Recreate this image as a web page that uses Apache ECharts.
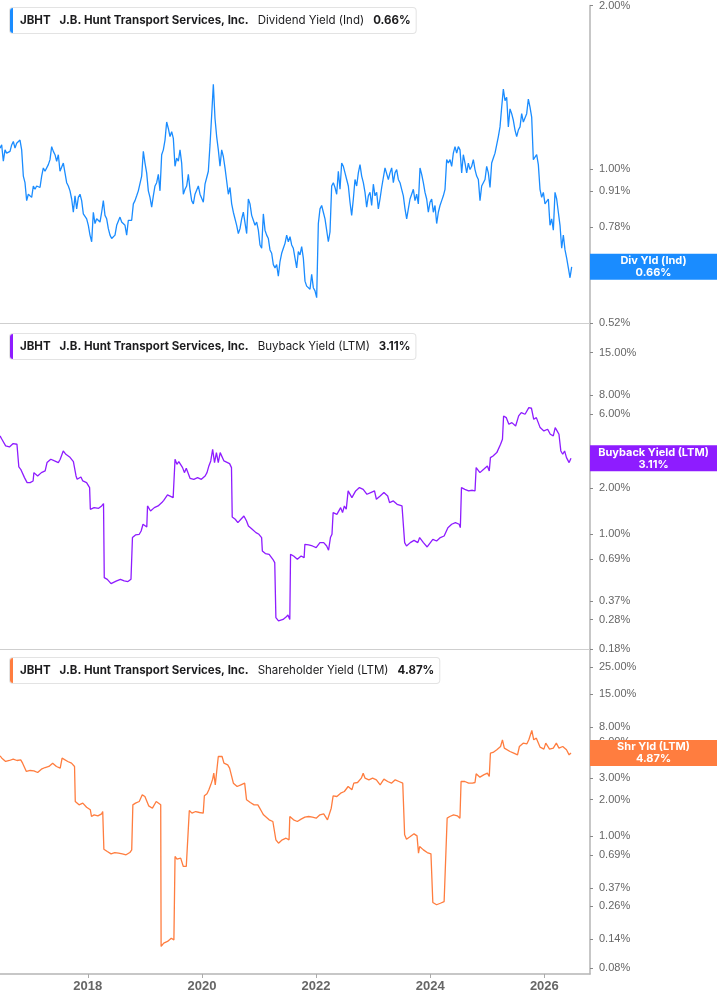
<!DOCTYPE html>
<html><head><meta charset="utf-8">
<script src="https://cdn.jsdelivr.net/npm/echarts@6/dist/echarts.min.js"></script>
<style>html,body{margin:0;padding:0;background:#fff}#c{width:717px;height:1005px}</style>
</head><body><div id="c"></div>
<script>
// ---------- data ----------
const ticker = 'JBHT';
const company = 'J.B. Hunt Transport Services, Inc.';
const xStart = 2016.462, xEnd = 2026.80;            // visible window (decimal years)
const yearTicks = [2018, 2020, 2022, 2024, 2026];

// Dividend yield (Ind), % — sampled every ~10.7 days from divStart
const divStart = 2016.462, divStep = 0.029204;
const divYield = [
1.092,1.107,1.033,1.084,1.069,1.062,1.077,1.107,1.123,1.092,
1.115,1.107,1.130,1.084,0.970,0.943,0.874,0.898,0.905,0.886,
0.930,0.917,0.930,0.937,0.924,0.970,1.004,0.990,0.997,1.018,
1.040,1.099,1.077,1.062,1.033,1.062,0.990,0.997,1.025,0.983,
0.943,0.930,0.911,0.880,0.832,0.892,0.844,0.886,0.898,0.874,
0.826,0.821,0.809,0.787,0.755,0.734,0.832,0.793,0.809,0.804,
0.798,0.832,0.874,0.821,0.809,0.776,0.755,0.744,0.739,0.755,
0.787,0.793,0.815,0.798,0.793,0.787,0.755,0.804,0.798,0.804,
0.862,0.874,0.892,0.911,0.905,0.970,1.077,1.025,0.983,0.911,
0.886,0.850,0.892,0.930,0.943,0.977,0.911,1.062,1.084,1.130,
1.220,1.187,1.147,1.171,1.138,1.011,1.047,1.033,1.084,1.025,
0.898,0.917,0.930,0.977,0.917,0.874,0.862,0.898,0.892,0.930,
0.898,0.905,0.868,0.937,0.963,0.990,1.107,1.255,1.432,1.238,
1.147,1.084,1.011,1.084,1.054,1.004,0.950,0.898,0.924,0.862,
0.832,0.838,0.787,0.760,0.776,0.809,0.832,0.838,0.760,0.880,
0.862,0.821,0.804,0.787,0.798,0.771,0.724,0.714,0.826,0.771,
0.755,0.744,0.709,0.699,0.666,0.657,0.666,0.634,0.675,0.699,
0.714,0.729,0.755,0.734,
0.750,0.724,0.714,0.685,0.657,0.704,0.694,0.719,0.685,0.621,
0.608,0.613,0.600,0.639,0.604,0.596,0.579,0.793,0.844,0.856,
0.832,0.809,0.809,0.734,0.765,0.930,0.943,0.924,0.898,0.990,
0.917,1.025,1.011,0.983,0.956,0.930,0.868,0.821,0.880,0.956,
0.930,0.983,1.018,0.970,0.943,0.905,0.850,0.892,0.905,0.856,
0.937,0.892,0.905,0.844,0.880,0.924,0.930,1.004,0.997,0.956,
0.983,1.004,0.943,0.983,0.997,0.956,0.943,0.917,0.892,0.844,
0.809,0.844,0.880,0.898,0.917,0.874,0.898,0.862,1.004,0.977,
0.943,0.905,0.880,0.832,0.868,0.880,0.832,0.856,0.793,0.832,
0.856,0.874,0.892,0.917,1.040,1.025,1.040,1.011,1.069,1.099,
1.069,1.099,1.084,0.983,1.062,1.025,0.983,1.025,0.997,1.011,
1.040,0.997,0.970,0.956,0.874,0.930,0.943,0.956,1.011,0.983,
0.924,1.025,1.047,1.069,1.107,1.147,1.195,1.299,1.403,1.336,
1.355,1.195,1.290,1.264,1.229,1.179,1.147,1.179,1.195,1.264,
1.220,1.212,1.264,1.345,1.299,1.246,1.040,1.040,1.062,1.018,
0.917,0.886,0.905,0.862,0.868,0.880,0.787,0.809,0.771,0.905,
0.880,0.832,0.787,0.714,0.755,0.709,0.685,0.657,0.630,0.66
];

// Buyback yield (LTM), % — [decimal year, value]
const buybackYield = [
[2016.462,4.334],[2016.495,4.124],[2016.561,3.734],[2016.627,3.678],[2016.693,3.866],[2016.759,3.828],[2016.779,3.828],[2016.792,2.730],[2016.825,2.636],[2016.891,2.328],
[2016.937,2.161],[2016.990,2.161],[2017.042,2.215],[2017.056,2.508],[2017.122,2.386],[2017.187,2.508],[2017.253,2.572],[2017.286,2.912],[2017.352,3.061],[2017.418,2.985],
[2017.484,2.912],[2017.517,3.061],[2017.570,3.465],[2017.616,3.297],[2017.682,3.168],[2017.748,2.955],[2017.781,2.985],[2017.794,2.386],[2017.814,2.271],[2017.880,2.351],
[2017.913,2.215],[2017.979,2.161],[2018.032,2.006],[2018.045,1.452],[2018.111,1.488],[2018.190,1.474],[2018.243,1.526],[2018.276,1.580],[2018.289,0.524],[2018.342,0.511],
[2018.408,0.479],[2018.441,0.474],[2018.506,0.499],[2018.572,0.511],[2018.638,0.499],[2018.704,0.494],[2018.757,0.511],[2018.783,0.952],[2018.836,0.990],[2018.902,1.000],
[2018.935,1.051],[2018.968,1.161],[2019.001,1.190],[2019.034,1.116],[2019.047,1.526],[2019.100,1.416],[2019.133,1.381],[2019.166,1.488],[2019.232,1.526],[2019.298,1.604],
[2019.331,1.660],[2019.364,1.686],[2019.397,1.798],[2019.430,1.771],[2019.496,1.728],[2019.515,1.728],[2019.529,3.061],[2019.562,2.840],[2019.595,2.955],[2019.628,2.912],
[2019.661,2.703],[2019.693,2.508],[2019.726,2.676],[2019.792,2.305],[2019.858,2.271],[2019.924,2.328],[2019.990,2.271],[2020.056,2.386],[2020.089,2.508],[2020.122,2.771],
[2020.155,2.985],[2020.188,3.552],[2020.221,2.912],[2020.254,3.380],[2020.287,2.912],[2020.320,3.380],[2020.353,3.465],[2020.386,2.985],[2020.419,2.912],[2020.485,2.869],
[2020.518,2.703],[2020.531,1.295],[2020.584,1.251],[2020.630,1.190],[2020.683,1.251],[2020.736,1.314],[2020.762,1.347],[2020.782,1.220],[2020.815,1.132],[2020.881,1.077],
[2020.947,1.025],[2020.999,1.000],[2021.046,0.952],[2021.059,0.780],[2021.112,0.750],[2021.178,0.742],[2021.243,0.689],[2021.276,0.656],[2021.296,0.289],[2021.342,0.275],
[2021.375,0.268],[2021.422,0.281],[2021.474,0.291],[2021.507,0.300],[2021.540,0.281],[2021.553,0.742],[2021.606,0.724],[2021.672,0.689],[2021.738,0.724],[2021.791,0.706],
[2021.804,0.861],[2021.870,0.853],[2021.936,0.840],[2022.002,0.820],[2022.068,0.883],[2022.134,0.883],[2022.186,0.840],[2022.219,0.788],[2022.252,0.952],[2022.279,1.000],
[2022.299,1.381],[2022.365,1.347],[2022.431,1.488],[2022.464,1.381],[2022.496,1.526],[2022.529,1.452],[2022.562,1.909],[2022.628,1.728],[2022.694,1.909],[2022.760,2.006],
[2022.826,1.956],[2022.892,1.816],[2022.958,1.862],[2023.024,1.909],[2023.057,1.686],[2023.123,1.771],[2023.189,1.862],[2023.255,1.771],[2023.288,1.604],[2023.354,1.644],
[2023.420,1.564],[2023.506,1.526],[2023.532,1.488],[2023.552,0.883],[2023.585,0.840],[2023.651,0.883],[2023.717,0.914],[2023.783,0.883],[2023.815,0.952],[2023.881,0.883],
[2023.947,0.828],[2023.980,0.820],[2024.046,0.928],[2024.112,0.905],[2024.178,0.952],[2024.244,0.975],[2024.310,1.104],[2024.376,1.161],[2024.442,1.190],[2024.508,1.161],
[2024.528,1.104],[2024.548,2.006],[2024.607,1.956],[2024.673,1.909],[2024.739,1.928],[2024.785,1.909],[2024.805,2.703],[2024.871,2.508],[2024.937,2.636],[2025.002,2.771],
[2025.035,2.572],[2025.055,3.137],[2025.101,3.216],[2025.167,3.380],[2025.233,3.828],[2025.266,4.124],[2025.286,5.840],[2025.332,5.696],[2025.378,5.157],[2025.431,5.286],
[2025.497,5.030],[2025.550,5.840],[2025.596,6.138],[2025.662,5.987],[2025.728,6.614],[2025.774,6.549],[2025.814,5.556],[2025.860,5.696],[2025.926,4.907],[2025.992,4.670],
[2026.058,4.787],[2026.104,4.443],[2026.157,4.334],[2026.190,4.907],[2026.223,4.670],[2026.256,4.443],[2026.289,3.465],[2026.322,3.297],[2026.355,3.465],[2026.388,3.137],
[2026.434,2.912],[2026.467,3.11]
];

// Shareholder yield (LTM), % — [decimal year, value]
const shareholderYield = [
[2016.462,4.612],[2016.495,4.411],[2016.561,4.139],[2016.627,4.219],[2016.693,4.328],[2016.759,4.219],[2016.825,4.273],[2016.858,4.009],[2016.924,3.419],[2016.990,3.485],
[2017.056,3.462],[2017.122,3.354],[2017.187,3.575],[2017.253,3.690],[2017.319,3.762],[2017.385,4.009],[2017.451,3.762],[2017.517,3.644],[2017.550,4.411],[2017.583,4.496],
[2017.649,4.139],[2017.715,4.009],[2017.768,3.762],[2017.781,1.928],[2017.847,1.808],[2017.913,1.867],[2017.979,1.729],[2018.045,1.644],[2018.065,1.447],[2018.111,1.494],
[2018.177,1.466],[2018.243,1.523],[2018.262,1.592],[2018.282,0.775],[2018.342,0.741],[2018.408,0.709],[2018.473,0.727],[2018.539,0.718],[2018.605,0.709],[2018.671,0.696],
[2018.737,0.727],[2018.770,0.765],[2018.790,1.808],[2018.836,1.867],[2018.902,1.928],[2018.955,2.189],[2019.001,2.121],[2019.067,1.774],[2019.133,1.696],[2019.199,1.928],
[2019.232,1.867],[2019.278,1.808],[2019.285,0.121],[2019.331,0.129],[2019.397,0.133],[2019.463,0.1415],[2019.509,0.137],[2019.529,0.674],[2019.562,0.640],[2019.628,0.653],
[2019.674,0.557],[2019.726,0.557],[2019.759,0.574],[2019.779,1.623],[2019.825,1.543],[2019.891,1.592],[2019.957,1.562],[2020.023,1.543],[2020.043,2.148],[2020.089,2.231],
[2020.122,2.409],[2020.155,2.650],[2020.188,2.953],[2020.208,3.312],[2020.234,2.650],[2020.254,2.736],[2020.287,4.554],[2020.320,4.496],[2020.353,4.554],[2020.386,4.009],
[2020.452,3.883],[2020.485,3.644],[2020.518,3.529],[2020.551,2.736],[2020.617,2.567],[2020.683,2.650],[2020.749,2.736],[2020.782,1.990],[2020.848,1.891],[2020.914,1.808],
[2020.980,1.808],[2021.013,1.696],[2021.046,1.592],[2021.079,1.494],[2021.112,1.447],[2021.178,1.358],[2021.243,1.315],[2021.276,1.274],[2021.296,0.927],[2021.342,0.869],
[2021.408,0.927],[2021.474,0.956],[2021.527,0.927],[2021.540,1.447],[2021.606,1.358],[2021.672,1.315],[2021.738,1.375],[2021.804,1.429],[2021.870,1.447],[2021.936,1.429],
[2022.002,1.402],[2022.068,1.494],[2022.134,1.523],[2022.200,1.358],[2022.233,1.402],[2022.266,1.696],[2022.299,2.148],[2022.365,2.121],[2022.431,2.260],[2022.496,2.333],
[2022.562,2.567],[2022.628,2.409],[2022.661,2.736],[2022.727,2.771],[2022.793,3.010],[2022.826,3.312],[2022.859,3.010],[2022.925,2.915],[2022.991,3.010],[2023.057,2.915],
[2023.123,2.650],[2023.189,2.953],[2023.255,2.824],[2023.321,2.736],[2023.387,2.915],[2023.453,2.824],[2023.519,2.736],[2023.539,2.650],[2023.552,1.019],[2023.585,0.938],
[2023.651,0.987],[2023.717,1.039],[2023.769,1.000],[2023.795,0.718],[2023.815,0.816],[2023.881,0.765],[2023.947,0.727],[2024.013,0.709],[2024.033,0.718],[2024.046,0.280],
[2024.112,0.268],[2024.178,0.276],[2024.244,0.285],[2024.277,0.294],[2024.297,1.402],[2024.343,1.447],[2024.409,1.494],[2024.475,1.466],[2024.521,1.402],[2024.541,2.824],
[2024.607,2.824],[2024.673,2.736],[2024.739,2.736],[2024.785,2.771],[2024.805,3.270],[2024.871,3.068],[2024.937,3.207],[2025.002,3.312],[2025.035,3.107],[2025.055,4.853],
[2025.101,4.916],[2025.167,5.174],[2025.233,5.513],[2025.266,6.262],[2025.299,5.340],[2025.332,5.513],[2025.398,5.010],[2025.464,4.853],[2025.530,4.701],[2025.563,5.513],
[2025.629,5.875],[2025.695,5.801],[2025.728,6.262],[2025.761,6.066],[2025.781,7.483],[2025.814,6.262],[2025.860,6.464],[2025.926,5.443],[2025.992,5.240],[2026.025,5.875],
[2026.091,5.240],[2026.157,5.340],[2026.210,5.875],[2026.256,5.340],[2026.322,5.513],[2026.388,5.174],[2026.434,4.701],[2026.467,4.87]
];

// Axis ticks (%) and visible ranges (%)
const divTicks = [2.00, 1.00, 0.91, 0.78, 0.65, 0.52];
const bbTicks  = [15, 8, 6, 3, 2, 1, 0.69, 0.37, 0.28, 0.18];
const shTicks  = [25, 15, 8, 6, 3, 2, 1, 0.69, 0.37, 0.26, 0.14, 0.08];
const divRange = [0.52, 2.0], bbRange = [0.18, 23.0], shRange = [0.0714, 35.3];

// ---------- chart ----------
const L = Math.log10;
const FONT = 'Inter, "Noto Sans", sans-serif';
const panels = [
  { metric: 'Dividend Yield (Ind)', badge: 'Div Yld (Ind)', last: '0.66%', color: '#1a8cff',
    data: divYield.map((v, i) => [divStart + i * divStep, v]), ticks: divTicks, range: divRange,
    grid: { top: -1, height: 324 }, titleY: 8 },
  { metric: 'Buyback Yield (LTM)', badge: 'Buyback Yield (LTM)', last: '3.11%', color: '#8e1cff',
    data: buybackYield, ticks: bbTicks, range: bbRange,
    grid: { top: 324, height: 325.3 }, titleY: 334 },
  { metric: 'Shareholder Yield (LTM)', badge: 'Shr Yld (LTM)', last: '4.87%', color: '#ff7d3f',
    data: shareholderYield, ticks: shTicks, range: shRange,
    grid: { top: 649.3, height: 324.7 }, titleY: 658 }
];

const chart = echarts.init(document.getElementById('c'), null, { renderer: 'canvas' });
const option = {
  animation: false,
  backgroundColor: '#ffffff',
  grid: panels.map(p => ({ left: 0, right: 127, top: p.grid.top, height: p.grid.height })),
  xAxis: panels.map((p, i) => ({
    type: 'value', gridIndex: i, min: xStart, max: xEnd,
    axisLine: { show: true, onZero: false, lineStyle: { color: i < 2 ? '#cfcfcf' : '#b5b5b5', width: i < 2 ? 1 : 1.5 } },
    axisTick: { show: i === 2, customValues: yearTicks, length: 4, lineStyle: { color: '#aaaaaa' } },
    axisLabel: { show: i === 2, customValues: yearTicks, margin: 6, formatter: v => String(Math.round(v)),
      color: '#666666', fontSize: 13, fontWeight: 'bold', fontFamily: '"Liberation Sans", Arial, sans-serif' },
    splitLine: { show: false }
  })),
  yAxis: panels.map((p, i) => ({
    type: 'value', gridIndex: i, position: 'right',
    min: L(p.range[0]), max: L(p.range[1]),
    axisLine: { show: true, onZero: false, lineStyle: { color: '#b5b5b5', width: 1.5 } },
    axisTick: { show: true, customValues: p.ticks.map(L), length: 3, lineStyle: { color: '#888888' } },
    axisLabel: { show: true, customValues: p.ticks.map(L), margin: 9,
      formatter: v => Math.pow(10, v).toFixed(2) + '%',
      color: '#666666', fontSize: 11, fontFamily: '"Liberation Sans", Arial, sans-serif' },
    splitLine: { show: false }
  })),
  series: panels.map((p, i) => ({
    type: 'line', xAxisIndex: i, yAxisIndex: i, symbol: 'none', showSymbol: false,
    lineStyle: { color: p.color, width: 1.3 }, itemStyle: { color: p.color },
    data: p.data.map(d => [d[0], L(d[1])])
  }))
};
chart.setOption(option);

// titles and last-value badges
const graphics = [];
panels.forEach((p, i) => {
  graphics.push({
    type: 'text', id: 'title' + i, x: 10, y: p.titleY, z: 100,
    style: {
      text: '{b|' + ticker + '}{s| }{b|' + company + '}{s| }{n|' + p.metric + '}{s| }{b|' + p.last + '}',
      rich: {
        b: { fontFamily: FONT, fontWeight: 'bold', fontSize: 11.5, fill: '#1c1c1e' },
        n: { fontFamily: FONT, fontWeight: 'normal', fontSize: 11.5, fill: '#1c1c1e' },
        s: { width: 9, fontSize: 11.5 }
      },
      backgroundColor: '#ffffff', borderColor: '#e3e3e3', borderWidth: 1, borderRadius: 3,
      padding: [7, 5, 6, 10], verticalAlign: 'top', align: 'left'
    }
  });
  graphics.push({
    type: 'rect', id: 'bar' + i, x: 10, y: p.titleY, z: 101,
    shape: { width: 3, height: 25, r: [3, 0, 0, 3] }, style: { fill: p.color }
  });
  const last = p.data[p.data.length - 1];
  const py = chart.convertToPixel({ xAxisIndex: i, yAxisIndex: i }, [last[0], L(last[1])])[1];
  graphics.push({
    type: 'rect', id: 'badge' + i, x: 590, y: py - 13, z: 110,
    shape: { width: 127, height: 26 }, style: { fill: p.color }
  });
  graphics.push({
    type: 'text', id: 'badgeText' + i, x: 653.5, y: py, z: 111,
    style: { text: p.badge + '\n' + p.last, fill: '#ffffff', fontFamily: FONT, fontWeight: 'bold',
      fontSize: 11, lineHeight: 12, align: 'center', verticalAlign: 'middle' }
  });
});
chart.setOption({ graphic: graphics });
</script>
</body></html>
